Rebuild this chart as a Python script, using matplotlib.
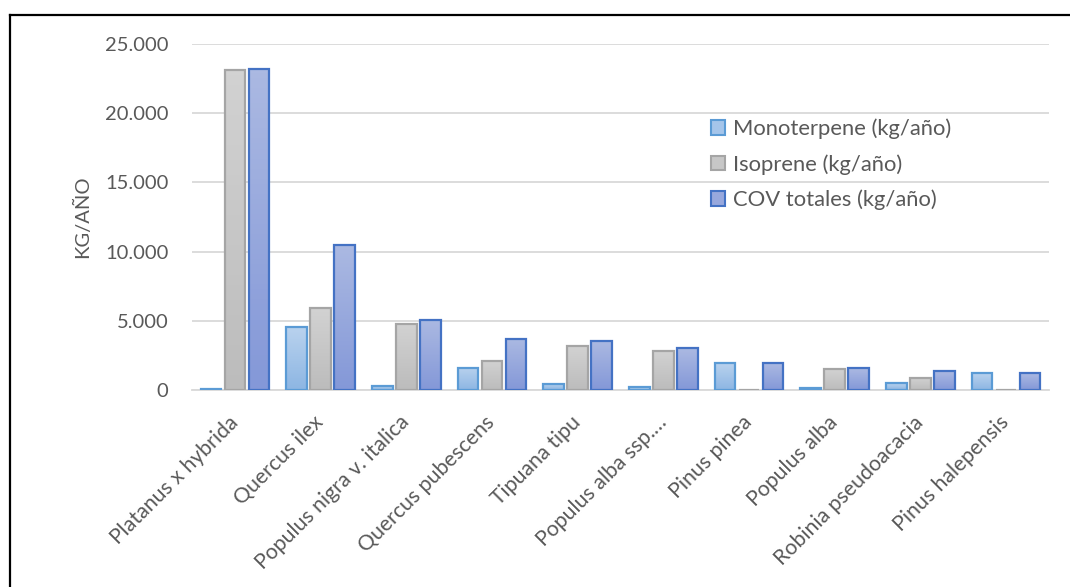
import matplotlib
matplotlib.use("Agg")
import matplotlib.pyplot as plt
import numpy as np
from matplotlib.patches import Patch
from matplotlib.lines import Line2D
from matplotlib.colors import LinearSegmentedColormap

categories = ["Platanus x hybrida", "Quercus ilex", "Populus nigra v. italica",
              "Quercus pubescens", "Tipuana tipu", "Populus alba ssp.…",
              "Pinus pinea", "Populus alba", "Robinia pseudoacacia",
              "Pinus halepensis"]
monoterpene = [100, 4550, 310, 1610, 450, 200, 1930, 120, 480, 1200]
isoprene = [23120, 5920, 4790, 2120, 3150, 2840, 20, 1490, 890, 0]
cov_totales = [23200, 10480, 5080, 3710, 3560, 3010, 1930, 1560, 1350, 1200]
series_names = ["Monoterpene (kg/año)", "Isoprene (kg/año)", "COV totales (kg/año)"]
yticks = [0, 5000, 10000, 15000, 20000, 25000]
ytick_labels = ["0", "5.000", "10.000", "15.000", "20.000", "25.000"]

series = [monoterpene, isoprene, cov_totales]
# (top colour, bottom colour, edge colour, legend face)
styles = [("#B9D2EE", "#8DB6E3", "#5B9BD5", "#A5C5EA"),
          ("#D2D2D2", "#BCBCBC", "#A5A5A5", "#C7C7C7"),
          ("#ABB9E2", "#8498D8", "#4472C4", "#98A8DD")]

text_color = "#595959"
font = "Lato"

fig = plt.figure(figsize=(10.70, 5.87), dpi=100)
ax = fig.add_axes([192/1070, 1-390/587, (1049-192)/1070, (390-44)/587])

n = len(categories)
x = np.arange(n)
width = 0.24
step = 0.28
offsets = [-step, 0, step]

for s, vals in enumerate(series):
    top_c, bot_c, edge_c, _ = styles[s]
    cmap = LinearSegmentedColormap.from_list("g%d" % s, [bot_c, top_c])
    bars = ax.bar(x + offsets[s], vals, width, facecolor="none",
                  edgecolor=edge_c, linewidth=1.6, zorder=3)
    for b in bars:
        h = b.get_height()
        if h <= 0:
            continue
        bx = b.get_x()
        grad = np.linspace(0, 1, 64).reshape(-1, 1)
        im = ax.imshow(grad, cmap=cmap, origin="lower", aspect="auto",
                       extent=[bx, bx + b.get_width(), 0, h], zorder=2)
        im.set_clip_path(b)

ax.set_xlim(-0.5, n - 0.5)
ax.set_ylim(0, 25000)
ax.set_yticks(yticks)
ax.set_yticklabels(ytick_labels)
ax.set_xticks(x)
ax.set_xticklabels(categories, rotation=45, ha="right", va="center",
                   rotation_mode="anchor")
ax.grid(axis="y", color="#D9D9D9", linewidth=1.3, zorder=0)
ax.set_axisbelow(True)
for sp in ["top", "right", "left"]:
    ax.spines[sp].set_visible(False)
ax.spines["bottom"].set_color("#D9D9D9")
ax.spines["bottom"].set_linewidth(1.3)
ax.tick_params(axis="y", length=0, colors=text_color, labelsize=14.5, pad=17)
ax.tick_params(axis="x", length=0, colors=text_color, labelsize=15.3, pad=21)
for lab in ax.get_xticklabels() + ax.get_yticklabels():
    lab.set_fontfamily(font)
    lab.set_color(text_color)

ax.set_ylabel("KG/AÑO", fontsize=14.5, color=text_color, fontfamily=font, labelpad=10)

handles = [Patch(facecolor=styles[i][3], edgecolor=styles[i][2], linewidth=1.5)
           for i in range(3)]
leg = ax.legend(handles, series_names, loc="upper left",
                bbox_to_anchor=(702/1070, 1-110/587), bbox_transform=fig.transFigure,
                frameon=False, prop={"family": font, "size": 15.8},
                handlelength=0.64, handleheight=0.64, handletextpad=0.35,
                labelspacing=0.68, borderaxespad=0)
for t in leg.get_texts():
    t.set_color(text_color)

# outer border (only top and left visible)
fig.add_artist(Line2D([9.5/1070, 1.0], [1-15/587, 1-15/587], transform=fig.transFigure,
                      color="black", linewidth=1.6))
fig.add_artist(Line2D([9.5/1070, 9.5/1070], [0, 1-15/587], transform=fig.transFigure,
                      color="black", linewidth=1.6))

fig.savefig("out.png", dpi=100)
